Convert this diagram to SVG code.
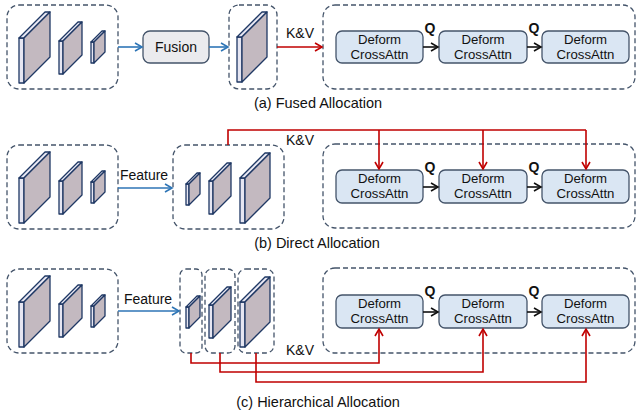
<svg xmlns="http://www.w3.org/2000/svg" width="637" height="418" viewBox="0 0 637 418">
<style>
.dash{fill:none;stroke:#44546a;stroke-width:1.3;stroke-dasharray:5 3}
.face{fill:#c3b9c0;stroke:#1f3864;stroke-width:1.3;stroke-linejoin:round}
.side{fill:#e6e6f2;stroke:#1f3864;stroke-width:1.3;stroke-linejoin:round}
.attn{fill:#dae6f3;stroke:#44546a;stroke-width:1.3}
.fus{fill:#ebebee;stroke:#44546a;stroke-width:1.3}
text{font-family:"Liberation Sans",Arial,sans-serif;fill:#111}
.t{font-size:13.2px;text-anchor:middle}
.l{font-size:14px;text-anchor:middle}
.cap{font-size:14.5px;text-anchor:middle}
.q{font-size:14px;font-weight:bold;text-anchor:middle}
.blue{fill:none;stroke:#2e75b6;stroke-width:1.6}
.red{fill:none;stroke:#c00000;stroke-width:1.6}
.blk{fill:none;stroke:#111;stroke-width:1.6}
</style>
<defs>
<marker id="ab" markerWidth="10" markerHeight="10" refX="8" refY="5" orient="auto" markerUnits="userSpaceOnUse"><path d="M1,1 L8,5 L1,9" fill="none" stroke="#2e75b6" stroke-width="1.6"/></marker>
<marker id="ar" markerWidth="10" markerHeight="10" refX="8" refY="5" orient="auto" markerUnits="userSpaceOnUse"><path d="M1,1 L8,5 L1,9" fill="none" stroke="#c00000" stroke-width="1.6"/></marker>
<marker id="ak" markerWidth="10" markerHeight="10" refX="8" refY="5" orient="auto" markerUnits="userSpaceOnUse"><path d="M1,1 L8,5 L1,9" fill="none" stroke="#111" stroke-width="1.6"/></marker>
</defs>

<!-- ===== (a) Fused Allocation ===== -->
<g id="a-features">
<rect class="dash" x="7" y="5" width="111" height="84" rx="12"/>
<polygon class="side" points="19,38 24,38 24,83 19,83"/>
<polygon class="side" points="19,38 45,12 50,12 24,38"/>
<polygon class="face" points="24,38 50,12 50,57 24,83"/>
<polygon class="side" points="59,41 63,41 63,74 59,74"/>
<polygon class="side" points="59,41 78,22 82,22 63,41"/>
<polygon class="face" points="63,41 82,22 82,55 63,74"/>
<polygon class="side" points="91,42 94,42 94,63 91,63"/>
<polygon class="side" points="91,42 102,31 105,31 94,42"/>
<polygon class="face" points="94,42 105,31 105,52 94,63"/>
</g>
<g id="a-fusion">
<rect class="fus" x="143" y="31" width="66" height="32" rx="7"/>
<text class="l" x="176" y="52">Fusion</text>
</g>
<g id="a-fused">
<rect class="dash" x="229" y="5" width="48" height="84" rx="10"/>
<polygon class="side" points="237,37 242,37 242,82 237,82"/>
<polygon class="side" points="237,37 262,12 267,12 242,37"/>
<polygon class="face" points="242,37 267,12 267,57 242,82"/>
</g>
<g id="a-attn">
<rect class="dash" x="323" y="5" width="312" height="84" rx="12"/>
<rect class="attn" x="336" y="31" width="87" height="32" rx="6"/>
<text class="t" x="379.5" y="44">Deform</text><text class="t" x="379.5" y="59">CrossAttn</text>
<rect class="attn" x="439" y="31" width="88" height="32" rx="6"/>
<text class="t" x="483" y="44">Deform</text><text class="t" x="483" y="59">CrossAttn</text>
<rect class="attn" x="542" y="31" width="87" height="32" rx="6"/>
<text class="t" x="585.5" y="44">Deform</text><text class="t" x="585.5" y="59">CrossAttn</text>
</g>

<!-- ===== (b) Direct Allocation ===== -->
<g id="b-features">
<rect class="dash" x="7" y="145" width="111" height="84" rx="12"/>
<polygon class="side" points="19,178 24,178 24,223 19,223"/>
<polygon class="side" points="19,178 45,152 50,152 24,178"/>
<polygon class="face" points="24,178 50,152 50,197 24,223"/>
<polygon class="side" points="59,181 63,181 63,214 59,214"/>
<polygon class="side" points="59,181 78,162 82,162 63,181"/>
<polygon class="face" points="63,181 82,162 82,195 63,214"/>
<polygon class="side" points="91,182 94,182 94,203 91,203"/>
<polygon class="side" points="91,182 102,171 105,171 94,182"/>
<polygon class="face" points="94,182 105,171 105,192 94,203"/>
</g>
<g id="b-direct">
<rect class="dash" x="173" y="145" width="111" height="84" rx="12"/>
<polygon class="side" points="186,184 189,184 189,205 186,205"/>
<polygon class="side" points="186,184 197,173 200,173 189,184"/>
<polygon class="face" points="189,184 200,173 200,194 189,205"/>
<polygon class="side" points="209,181 213,181 213,214 209,214"/>
<polygon class="side" points="209,181 227,163 231,163 213,181"/>
<polygon class="face" points="213,181 231,163 231,196 213,214"/>
<polygon class="side" points="240,178 245,178 245,223 240,223"/>
<polygon class="side" points="240,178 265,153 270,153 245,178"/>
<polygon class="face" points="245,178 270,153 270,198 245,223"/>
</g>
<g id="b-attn">
<rect class="dash" x="323" y="144" width="312" height="84" rx="12"/>
<rect class="attn" x="336" y="170" width="87" height="33" rx="6"/>
<text class="t" x="379.5" y="183">Deform</text><text class="t" x="379.5" y="198">CrossAttn</text>
<rect class="attn" x="439" y="170" width="88" height="33" rx="6"/>
<text class="t" x="483" y="183">Deform</text><text class="t" x="483" y="198">CrossAttn</text>
<rect class="attn" x="542" y="170" width="87" height="33" rx="6"/>
<text class="t" x="585.5" y="183">Deform</text><text class="t" x="585.5" y="198">CrossAttn</text>
</g>

<!-- ===== (c) Hierarchical Allocation ===== -->
<g id="c-features">
<rect class="dash" x="7" y="269" width="111" height="84" rx="12"/>
<polygon class="side" points="19,302 24,302 24,347 19,347"/>
<polygon class="side" points="19,302 45,276 50,276 24,302"/>
<polygon class="face" points="24,302 50,276 50,321 24,347"/>
<polygon class="side" points="59,304 63,304 63,337 59,337"/>
<polygon class="side" points="59,304 78,285 82,285 63,304"/>
<polygon class="face" points="63,304 82,285 82,318 63,337"/>
<polygon class="side" points="91,306 94,306 94,327 91,327"/>
<polygon class="side" points="91,306 102,295 105,295 94,306"/>
<polygon class="face" points="94,306 105,295 105,316 94,327"/>
</g>
<g id="c-level1">
<rect class="dash" x="180" y="269" width="22" height="84" rx="6"/>
<polygon class="side" points="186,307 189,307 189,328 186,328"/>
<polygon class="side" points="186,307 197,296 200,296 189,307"/>
<polygon class="face" points="189,307 200,296 200,317 189,328"/>
</g>
<g id="c-level2">
<rect class="dash" x="205" y="269" width="30" height="84" rx="7"/>
<polygon class="side" points="209,305 213,305 213,338 209,338"/>
<polygon class="side" points="209,305 227,287 231,287 213,305"/>
<polygon class="face" points="213,305 231,287 231,320 213,338"/>
</g>
<g id="c-level3">
<rect class="dash" x="238" y="269" width="36" height="84" rx="8"/>
<polygon class="side" points="240,302 245,302 245,347 240,347"/>
<polygon class="side" points="240,302 265,277 270,277 245,302"/>
<polygon class="face" points="245,302 270,277 270,322 245,347"/>
</g>
<g id="c-attn">
<rect class="dash" x="323" y="268" width="312" height="85" rx="12"/>
<rect class="attn" x="336" y="295" width="87" height="33" rx="6"/>
<text class="t" x="379.5" y="308">Deform</text><text class="t" x="379.5" y="323">CrossAttn</text>
<rect class="attn" x="439" y="295" width="88" height="33" rx="6"/>
<text class="t" x="483" y="308">Deform</text><text class="t" x="483" y="323">CrossAttn</text>
<rect class="attn" x="542" y="295" width="87" height="33" rx="6"/>
<text class="t" x="585.5" y="308">Deform</text><text class="t" x="585.5" y="323">CrossAttn</text>
</g>

<!-- ===== connectors ===== -->
<g id="connectors">
<line class="blue" x1="118" y1="47" x2="142" y2="47" marker-end="url(#ab)"/>
<line class="blue" x1="209" y1="47" x2="228" y2="47" marker-end="url(#ab)"/>
<line class="red" x1="277" y1="47" x2="322" y2="47" marker-end="url(#ar)"/>
<line class="blk" x1="423" y1="47" x2="438" y2="47" marker-end="url(#ak)"/>
<line class="blk" x1="527" y1="47" x2="541" y2="47" marker-end="url(#ak)"/>

<line class="blue" x1="118" y1="188" x2="172" y2="188" marker-end="url(#ab)"/>
<polyline class="red" points="228,145 228,130 586,130"/>
<line class="red" x1="379" y1="130" x2="379" y2="169" marker-end="url(#ar)"/>
<line class="red" x1="483" y1="130" x2="483" y2="169" marker-end="url(#ar)"/>
<line class="red" x1="586" y1="130" x2="586" y2="169" marker-end="url(#ar)"/>
<line class="blk" x1="423" y1="187" x2="438" y2="187" marker-end="url(#ak)"/>
<line class="blk" x1="527" y1="187" x2="541" y2="187" marker-end="url(#ak)"/>

<line class="blue" x1="118" y1="311" x2="179" y2="311" marker-end="url(#ab)"/>
<polyline class="red" points="191,353 191,363 379,363 379,329" marker-end="url(#ar)"/>
<polyline class="red" points="220,353 220,372 483,372 483,329" marker-end="url(#ar)"/>
<polyline class="red" points="256,353 256,382 586,382 586,329" marker-end="url(#ar)"/>
<line class="blk" x1="423" y1="312" x2="438" y2="312" marker-end="url(#ak)"/>
<line class="blk" x1="527" y1="312" x2="541" y2="312" marker-end="url(#ak)"/>
</g>

<g id="labels">
<text class="l" x="300" y="38">K&amp;V</text>
<text class="q" x="430" y="33">Q</text>
<text class="q" x="534" y="33">Q</text>
<text class="cap" x="318" y="108">(a) Fused Allocation</text>

<text class="l" x="144" y="180">Feature</text>
<text class="l" x="300" y="145">K&amp;V</text>
<text class="q" x="430" y="172">Q</text>
<text class="q" x="534" y="172">Q</text>
<text class="cap" x="317" y="248">(b) Direct Allocation</text>

<text class="l" x="148" y="304">Feature</text>
<text class="l" x="300" y="355">K&amp;V</text>
<text class="q" x="430" y="296">Q</text>
<text class="q" x="534" y="296">Q</text>
<text class="cap" x="318" y="407">(c) Hierarchical Allocation</text>
</g>
</svg>
